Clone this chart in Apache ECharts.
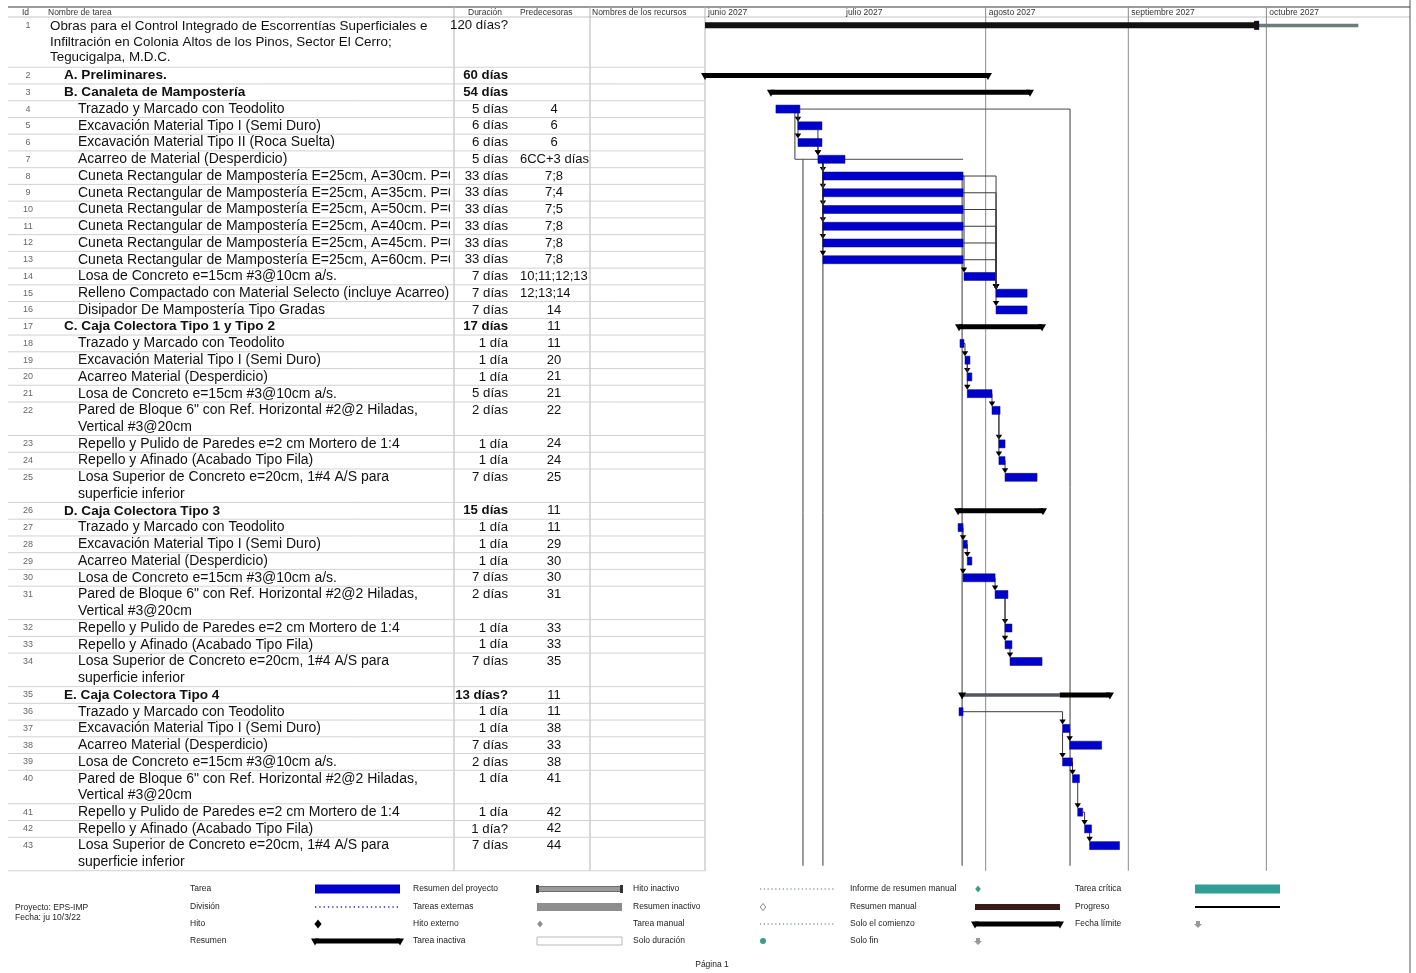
<!DOCTYPE html>
<html><head><meta charset="utf-8">
<script src="https://cdn.jsdelivr.net/npm/echarts@6/dist/echarts.min.js"></script>
<style>html,body{margin:0;padding:0;background:#fff}#c{width:1416px;height:973px}</style>
</head><body><div id="c"></div>
<script>
// ---------------- DATA ----------------
const ids = Array.from({length:43}, (_, k) => k + 1);
const names = [
 'Obras para el Control Integrado de Escorrentías Superficiales e\nInfiltración en Colonia Altos de los Pinos, Sector El Cerro;\nTegucigalpa, M.D.C.',
 'A. Preliminares.',
 'B. Canaleta de Mampostería',
 'Trazado y Marcado con Teodolito',
 'Excavación Material Tipo I (Semi Duro)',
 'Excavación Material Tipo II (Roca Suelta)',
 'Acarreo de Material (Desperdicio)',
 'Cuneta Rectangular de Mampostería E=25cm, A=30cm. P=0.40m',
 'Cuneta Rectangular de Mampostería E=25cm, A=35cm. P=0.40m',
 'Cuneta Rectangular de Mampostería E=25cm, A=50cm. P=0.40m',
 'Cuneta Rectangular de Mampostería E=25cm, A=40cm. P=0.40m',
 'Cuneta Rectangular de Mampostería E=25cm, A=45cm. P=0.40m',
 'Cuneta Rectangular de Mampostería E=25cm, A=60cm. P=0.40m',
 'Losa de Concreto e=15cm #3@10cm a/s.',
 'Relleno Compactado con Material Selecto (incluye Acarreo)',
 'Disipador De Mampostería Tipo Gradas',
 'C. Caja Colectora Tipo 1 y Tipo 2',
 'Trazado y Marcado con Teodolito',
 'Excavación Material Tipo I (Semi Duro)',
 'Acarreo Material (Desperdicio)',
 'Losa de Concreto e=15cm #3@10cm a/s.',
 'Pared de Bloque 6" con Ref. Horizontal #2@2 Hiladas,\nVertical #3@20cm',
 'Repello y Pulido de Paredes e=2 cm Mortero de 1:4',
 'Repello y Afinado (Acabado Tipo Fila)',
 'Losa Superior de Concreto e=20cm, 1#4 A/S para\nsuperficie inferior',
 'D. Caja Colectora Tipo 3',
 'Trazado y Marcado con Teodolito',
 'Excavación Material Tipo I (Semi Duro)',
 'Acarreo Material (Desperdicio)',
 'Losa de Concreto e=15cm #3@10cm a/s.',
 'Pared de Bloque 6" con Ref. Horizontal #2@2 Hiladas,\nVertical #3@20cm',
 'Repello y Pulido de Paredes e=2 cm Mortero de 1:4',
 'Repello y Afinado (Acabado Tipo Fila)',
 'Losa Superior de Concreto e=20cm, 1#4 A/S para\nsuperficie inferior',
 'E. Caja Colectora Tipo 4',
 'Trazado y Marcado con Teodolito',
 'Excavación Material Tipo I (Semi Duro)',
 'Acarreo Material (Desperdicio)',
 'Losa de Concreto e=15cm #3@10cm a/s.',
 'Pared de Bloque 6" con Ref. Horizontal #2@2 Hiladas,\nVertical #3@20cm',
 'Repello y Pulido de Paredes e=2 cm Mortero de 1:4',
 'Repello y Afinado (Acabado Tipo Fila)',
 'Losa Superior de Concreto e=20cm, 1#4 A/S para\nsuperficie inferior'
];
const kinds = ['project','summary','summary','task','task','task','task','task','task','task','task','task','task','task','task','task',
 'summary','task','task','task','task','task','task','task','task',
 'summary','task','task','task','task','task','task','task','task',
 'summary','task','task','task','task','task','task','task','task'];
const levels = kinds.map(k => k === 'project' ? 0 : (k === 'summary' ? 1 : 2));
const durations = ['120 días?','60 días','54 días','5 días','6 días','6 días','5 días','33 días','33 días','33 días','33 días','33 días','33 días','7 días','7 días','7 días',
 '17 días','1 día','1 día','1 día','5 días','2 días','1 día','1 día','7 días',
 '15 días','1 día','1 día','1 día','7 días','2 días','1 día','1 día','7 días',
 '13 días?','1 día','1 día','7 días','2 días','1 día','1 día','1 día?','7 días'];
const predecessors = ['','','','4','6','6','6CC+3 días','7;8','7;4','7;5','7;8','7;8','7;8','10;11;12;13','12;13;14','14',
 '11','11','20','21','21','22','24','24','25',
 '11','11','29','30','30','31','33','33','35',
 '11','11','38','33','38','41','42','42','44'];
const starts = ['2027-06-01 00:00','2027-06-01 00:00','2027-06-15 08:00','2027-06-16 10:00','2027-06-21 05:00','2027-06-21 05:00','2027-06-25 13:00',
 '2027-06-26 15:00','2027-06-26 15:00','2027-06-26 15:00','2027-06-26 15:00','2027-06-26 15:00','2027-06-26 15:00',
 '2027-07-27 07:00','2027-08-03 06:00','2027-08-03 06:00',
 '2027-07-26 05:00','2027-07-26 10:00','2027-07-27 12:00','2027-07-28 00:00','2027-07-28 00:00','2027-08-02 09:00','2027-08-03 21:00','2027-08-03 21:00','2027-08-05 05:00',
 '2027-07-26 00:00','2027-07-26 00:00','2027-07-27 02:00','2027-07-28 00:00','2027-07-27 02:00','2027-08-03 01:00','2027-08-05 05:00','2027-08-05 05:00','2027-08-06 07:00',
 '2027-07-26 21:00','2027-07-26 05:00','2027-08-17 17:00','2027-08-19 06:00','2027-08-17 17:00','2027-08-19 21:00','2027-08-21 00:00','2027-08-22 12:00','2027-08-23 14:00'];
const finishes = ['2027-09-29 05:00','2027-08-01 12:00','2027-08-10 15:00','2027-06-21 15:00','2027-06-26 10:00','2027-06-26 10:00','2027-07-01 10:00',
 '2027-07-27 02:00','2027-07-27 02:00','2027-07-27 02:00','2027-07-27 02:00','2027-07-27 02:00','2027-07-27 02:00',
 '2027-08-03 01:00','2027-08-10 00:00','2027-08-10 00:00',
 '2027-08-13 06:00','2027-07-27 07:00','2027-07-28 14:00','2027-07-29 00:00','2027-08-02 09:00','2027-08-04 03:00','2027-08-05 05:00','2027-08-05 05:00','2027-08-12 04:00',
 '2027-08-13 11:00','2027-07-27 02:00','2027-07-28 00:00','2027-07-29 00:00','2027-08-03 01:00','2027-08-05 20:00','2027-08-06 17:00','2027-08-06 17:00','2027-08-13 06:00',
 '2027-08-28 00:00','2027-07-27 02:00','2027-08-19 06:00','2027-08-26 05:00','2027-08-19 21:00','2027-08-21 09:00','2027-08-22 02:00','2027-08-24 00:00','2027-08-30 02:00'];
const projectTailEnd = '2027-10-21 00:00';
const summaryEHeavyFrom = '2027-08-17 02:00';
const links = [[4,5],[4,6],[5,7],[6,7],[7,8],[7,9],[7,10],[7,11],[7,12],[7,13],[8,14],[8,15],[9,15],[10,15],[11,15],[12,15],[13,15],[14,16],
 [18,19],[19,20],[19,21],[21,22],[22,23],[22,24],[24,25],
 [27,28],[28,29],[28,30],[30,31],[31,32],[31,33],[33,34],
 [36,37],[37,38],[37,39],[39,40],[40,41],[41,42],[42,43]];
// long connector verticals: [date, fromRow, toRow (0 = bottom)]
const connectorV = [['2027-06-20 13:00',4,7],['2027-06-22 07:00',7,0],['2027-06-26 15:00',7,0],['2027-07-26 21:00',8,0],['2027-08-19 08:00',4,0]];
// connector horizontals: [row, fromDate, toDate]
const connectorH = [[4,'2027-06-21 15:00','2027-08-19 08:00'],[7,'2027-06-20 13:00','2027-07-27 02:00']];
const monthStarts = ['2027-06-01','2027-07-01','2027-08-01','2027-09-01','2027-10-01'];
const monthLabels = ['junio 2027','julio 2027','agosto 2027','septiembre 2027','octubre 2027'];
const monthLines = ['2027-08-01','2027-09-01','2027-10-01'];
const timeMin = '2027-06-01 00:00', timeMax = '2027-11-01 00:00';
const tableHeaders = ['Id','Nombre de tarea','Duración','Predecesoras','Nombres de los recursos'];
const legendLabels = [
 ['Tarea','División','Hito','Resumen'],
 ['Resumen del proyecto','Tareas externas','Hito externo','Tarea inactiva'],
 ['Hito inactivo','Resumen inactivo','Tarea manual','Solo duración'],
 ['Informe de resumen manual','Resumen manual','Solo el comienzo','Solo fin'],
 ['Tarea crítica','Progreso','Fecha límite']
];
const legendSymbols = [
 ['task','split','milestone','summary'],
 ['projsum','external','extmile','inactive'],
 ['dotted','diamondOutline','dotted','tealDot'],
 ['tealDiamond','brownBar','summary','smallArrow'],
 ['tealBar','progress','smallArrow']
];
const projectInfo = ['Proyecto: EPS-IMP','Fecha: ju 10/3/22'];
const footer = 'Página 1';

// ---------------- LAYOUT ----------------
const FONT = '"Liberation Sans", Arial, sans-serif';
const TOP = 17, UNIT = 16.74, TABLE_W = 705, GANTT_W = 704;
const lineCounts = names.map(n => n.split('\n').length);
const rowStart = []; let acc = 0;
lineCounts.forEach(c => { rowStart.push(acc); acc += c; });
const totalLines = acc;
const BOTTOM = TOP + totalLines * UNIT;
const T = s => new Date(s.replace(' ', 'T') + (s.length <= 10 ? 'T00:00' : '')).getTime();
const BLUE = '#0000cc';

const chart = echarts.init(document.getElementById('c'));

function tableItem(params, api) {
  const i = params.dataIndex;
  const y0 = api.coord([0, rowStart[i]])[1];
  const y1 = api.coord([0, rowStart[i] + lineCounts[i]])[1];
  const first = api.coord([0, rowStart[i] + 0.5])[1];
  const yc = (y0 + y1) / 2;
  const bold = kinds[i] === 'summary';
  const nx = [50, 64, 78][levels[i]];
  const nameFont = i === 0 ? '13.4px ' : (bold ? 'bold 13.6px ' : '14px ');
  return {type:'group', children:[
    {type:'line', shape:{x1:8, y1:y1, x2:TABLE_W, y2:y1}, style:{stroke:'#d2d2d2', lineWidth:1}},
    {type:'text', style:{x:28, y:first, text:String(ids[i]), font:'9px '+FONT, fill:'#666', align:'center', verticalAlign:'middle'}},
    {type:'group', clipPath:{type:'rect', shape:{x:nx-2, y:y0, width:452-nx, height:y1-y0}}, children:[
      {type:'text', style:{x:nx, y:yc, text:names[i], font:nameFont+FONT, fill:'#111',
        lineHeight: i === 0 ? 15.5 : UNIT, verticalAlign:'middle'}}
    ]},
    {type:'text', style:{x:508, y:first, text:durations[i], font:(bold?'bold 13.2px ':'13.2px ')+FONT, fill:'#111', align:'right', verticalAlign:'middle'}},
    {type:'group', clipPath:{type:'rect', shape:{x:518, y:y0, width:71, height:y1-y0}}, children:[
      {type:'text', style:{x:554, y:first, text:predecessors[i], font:'13px '+FONT, fill:'#111',
        align: predecessors[i].length > 7 ? 'left' : 'center', verticalAlign:'middle'}, x: predecessors[i].length > 7 ? -34 : 0}
    ]}
  ]};
}

function barItem(params, api) {
  const i = api.value(3);
  const p0 = api.coord([api.value(0), api.value(2)]);
  const p1 = api.coord([api.value(1), api.value(2)]);
  const x0 = p0[0], x1 = p1[0], y = p0[1];
  const k = kinds[i];
  if (k === 'task') {
    return {type:'rect', shape:{x:x0, y:y-4, width:Math.max(x1-x0, 3), height:8}, style:{fill:BLUE, stroke:'#000080', lineWidth:0.5}};
  }
  if (k === 'project') {
    const xt = api.coord([T(projectTailEnd), api.value(2)])[0];
    return {type:'group', children:[
      {type:'rect', shape:{x:x0, y:y-1.5, width:xt-x0, height:3.5}, style:{fill:'#6d7a80'}},
      {type:'rect', shape:{x:x0, y:y-3, width:x1-x0, height:6}, style:{fill:'#111'}},
      {type:'rect', shape:{x:x1-4, y:y-4.5, width:5, height:9}, style:{fill:'#111'}}
    ]};
  }
  const ch = [];
  let hx = x0;
  if (i === 34) {
    hx = api.coord([T(summaryEHeavyFrom), api.value(2)])[0];
    ch.push({type:'rect', shape:{x:x0, y:y-1.8, width:hx-x0, height:3.6}, style:{fill:'#505560'}});
  }
  ch.push({type:'rect', shape:{x:hx, y:y-2.5, width:x1-hx, height:5}, style:{fill:'#000'}});
  [x0, x1].forEach(x => ch.push({type:'polygon', shape:{points:[[x-4,y-2.5],[x+4,y-2.5],[x,y+4.5]]}, style:{fill:'#000'}}));
  return {type:'group', children:ch};
}

function linkItem(params, api) {
  const [a, b] = links[params.dataIndex].map(r => r - 1);
  const pe = T(finishes[a]), ss = T(starts[b]);
  const ya = api.coord([pe, rowStart[a] + 0.5])[1];
  const yb = api.coord([ss, rowStart[b] + 0.5])[1];
  const xe = api.coord([pe, 0])[0], xs = api.coord([ss, 0])[0];
  let pts;
  if (xs >= xe) pts = [[xe, ya], [xs, ya], [xs, yb-8]];
  else pts = [[xs, ya+4], [xs, yb-8]];
  return {type:'group', children:[
    {type:'polyline', shape:{points:pts}, style:{stroke:'#3a3a3a', lineWidth:1, fill:null}},
    {type:'polygon', shape:{points:[[xs-3.2, yb-9],[xs+3.2, yb-9],[xs, yb-4]]}, style:{fill:'#000'}}
  ]};
}

function connVItem(params, api) {
  const [d, r0, r1] = connectorV[params.dataIndex];
  const x = api.coord([T(d), 0])[0];
  const y0 = api.coord([T(d), rowStart[r0-1] + 0.5])[1];
  const y1 = r1 ? api.coord([T(d), rowStart[r1-1] + 0.5])[1] : BOTTOM - 5;
  return {type:'line', shape:{x1:x, y1:y0, x2:x, y2:y1}, style:{stroke:'#3a3a3a', lineWidth:1}};
}
function connHItem(params, api) {
  const [r, d0, d1] = connectorH[params.dataIndex];
  const p0 = api.coord([T(d0), rowStart[r-1] + 0.5]);
  const p1 = api.coord([T(d1), rowStart[r-1] + 0.5]);
  return {type:'line', shape:{x1:p0[0], y1:p0[1], x2:p1[0], y2:p1[1]}, style:{stroke:'#4a4a4a', lineWidth:1}};
}
function monthLabelItem(params, api) {
  const x = api.coord([T(monthStarts[params.dataIndex]), 0])[0];
  return {type:'text', style:{x:x+3, y:12.5, text:monthLabels[params.dataIndex], font:'8.5px '+FONT, fill:'#333', verticalAlign:'middle'}};
}
function monthLineItem(params, api) {
  const x = api.coord([T(monthLines[params.dataIndex]), 0])[0];
  return {type:'line', shape:{x1:x, y1:7, x2:x, y2:BOTTOM}, style:{stroke:'#8c8c8c', lineWidth:1}};
}

// ---------------- STATIC GRAPHICS (header lines, legend) ----------------
const g = [];
g.push({type:'line', shape:{x1:8, y1:7, x2:1410, y2:7}, style:{stroke:'#7a7a7a', lineWidth:1.5}});
g.push({type:'line', shape:{x1:8, y1:TOP, x2:1410, y2:TOP}, style:{stroke:'#c4c4c4', lineWidth:1}});
[454, 590, TABLE_W].forEach(x => g.push({type:'line', shape:{x1:x, y1:7, x2:x, y2:BOTTOM}, style:{stroke:'#b4b4b4', lineWidth:1}}));
g.push({type:'line', shape:{x1:1410, y1:0, x2:1410, y2:973}, style:{stroke:'#555', lineWidth:1}});
const hx = [22, 48, 468, 520, 592];
tableHeaders.forEach((t, k) => g.push({type:'text', style:{x:hx[k], y:12.5, text:t, font:'8.5px '+FONT, fill:'#333', verticalAlign:'middle'}}));

const LROWS = [889, 907, 924, 941];
const LCOLS = [{lx:190, sx:315}, {lx:413, sx:537}, {lx:633, sx:760}, {lx:850, sx:975}, {lx:1075, sx:1195}];
const SW = 85;
function diamond(cx, cy, r, fill, stroke) {
  return {type:'polygon', shape:{points:[[cx,cy-r],[cx+r*0.8,cy],[cx,cy+r],[cx-r*0.8,cy]]}, style:{fill:fill, stroke:stroke||null, lineWidth:1}};
}
function sym(kind, sx, y) {
  switch(kind) {
    case 'task': return [{type:'rect', shape:{x:sx, y:y-4.5, width:SW, height:9}, style:{fill:BLUE}}];
    case 'split': return [{type:'line', shape:{x1:sx, y1:y, x2:sx+SW, y2:y}, style:{stroke:'#2a2ab0', lineWidth:1.3, lineDash:[1.3,3]}}];
    case 'milestone': return [diamond(sx+3, y, 4.5, '#000')];
    case 'summary': return [{type:'rect', shape:{x:sx, y:y-2.5, width:SW, height:5}, style:{fill:'#000'}},
      {type:'polygon', shape:{points:[[sx-4,y-2.5],[sx+4,y-2.5],[sx,y+4.5]]}, style:{fill:'#000'}},
      {type:'polygon', shape:{points:[[sx+SW-4,y-2.5],[sx+SW+4,y-2.5],[sx+SW,y+4.5]]}, style:{fill:'#000'}}];
    case 'projsum': return [{type:'rect', shape:{x:sx, y:y-2.5, width:SW, height:5}, style:{fill:'#9a9a9a', stroke:'#555', lineWidth:0.8}},
      {type:'rect', shape:{x:sx-1, y:y-4, width:3, height:8}, style:{fill:'#333'}},
      {type:'rect', shape:{x:sx+SW-2, y:y-4, width:3, height:8}, style:{fill:'#333'}}];
    case 'external': return [{type:'rect', shape:{x:sx, y:y-4, width:SW, height:8}, style:{fill:'#8e8e8e'}}];
    case 'extmile': return [diamond(sx+3, y, 3.5, '#8e8e8e')];
    case 'inactive': return [{type:'rect', shape:{x:sx, y:y-4, width:SW, height:8}, style:{fill:'#fff', stroke:'#b8b8b8', lineWidth:1}}];
    case 'dotted': return [{type:'line', shape:{x1:sx, y1:y, x2:sx+75, y2:y}, style:{stroke:'#5a6a7a', lineWidth:1.2, lineDash:[1.2,2.6]}}];
    case 'diamondOutline': return [diamond(sx+3, y, 3.5, '#fff', '#888')];
    case 'tealDot': return [{type:'circle', shape:{cx:sx+3, cy:y, r:3}, style:{fill:'#3c9c8a'}}];
    case 'tealDiamond': return [diamond(sx+3, y, 3.5, '#3c9c8a')];
    case 'brownBar': return [{type:'rect', shape:{x:sx, y:y-3, width:SW, height:6}, style:{fill:'#3a1a1a'}}];
    case 'smallArrow': return [{type:'polygon', shape:{points:[[sx+1,y-3],[sx+5,y-3],[sx+5,y],[sx+7,y],[sx+3,y+4],[sx-1,y],[sx+1,y]]}, style:{fill:'#999'}}];
    case 'tealBar': return [{type:'rect', shape:{x:sx, y:y-4.5, width:SW, height:9}, style:{fill:'#2f9e94'}}];
    case 'progress': return [{type:'line', shape:{x1:sx, y1:y, x2:sx+SW, y2:y}, style:{stroke:'#000', lineWidth:2}}];
  }
  return [];
}
legendLabels.forEach((col, c) => col.forEach((lab, r) => {
  g.push({type:'text', style:{x:LCOLS[c].lx, y:LROWS[r], text:lab, font:'8.5px '+FONT, fill:'#222', verticalAlign:'middle'}});
  sym(legendSymbols[c][r], LCOLS[c].sx, LROWS[r]).forEach(e => g.push(e));
}));
projectInfo.forEach((t, k) => g.push({type:'text', style:{x:15, y:908 + k*10, text:t, font:'8.5px '+FONT, fill:'#222', verticalAlign:'middle'}}));
g.push({type:'text', style:{x:712, y:965, text:footer, font:'8.5px '+FONT, fill:'#222', align:'center', verticalAlign:'middle'}});

// ---------------- OPTION ----------------
const H = totalLines * UNIT;
const option = {
  animation:false,
  backgroundColor:'#fff',
  textStyle:{fontFamily:FONT},
  grid:[{left:0, top:TOP, width:TABLE_W, height:H}, {left:TABLE_W, top:TOP, width:GANTT_W, height:H}],
  xAxis:[
    {gridIndex:0, type:'value', min:0, max:TABLE_W, show:false},
    {gridIndex:1, type:'time', min:T(timeMin), max:T(timeMax), show:false}
  ],
  yAxis:[
    {gridIndex:0, type:'value', min:0, max:totalLines, inverse:true, show:false},
    {gridIndex:1, type:'value', min:0, max:totalLines, inverse:true, show:false}
  ],
  graphic:g,
  series:[
    {type:'custom', xAxisIndex:0, yAxisIndex:0, clip:false, z:2, renderItem:tableItem,
     data:names.map((n, i) => [0, rowStart[i] + 0.5, i])},
    {type:'custom', xAxisIndex:1, yAxisIndex:1, clip:false, z:1, renderItem:monthLineItem,
     data:monthLines.map(d => [T(d), 0])},
    {type:'custom', xAxisIndex:1, yAxisIndex:1, clip:false, z:2, renderItem:monthLabelItem,
     data:monthStarts.map(d => [T(d), 0])},
    {type:'custom', xAxisIndex:1, yAxisIndex:1, clip:false, z:2, renderItem:connVItem,
     data:connectorV.map(c => [T(c[0]), rowStart[c[1]-1] + 0.5])},
    {type:'custom', xAxisIndex:1, yAxisIndex:1, clip:false, z:2, renderItem:connHItem,
     data:connectorH.map(c => [T(c[1]), rowStart[c[0]-1] + 0.5])},
    {type:'custom', xAxisIndex:1, yAxisIndex:1, clip:false, z:3, renderItem:linkItem,
     data:links.map(l => [T(starts[l[1]-1]), rowStart[l[1]-1] + 0.5])},
    {type:'custom', xAxisIndex:1, yAxisIndex:1, clip:false, z:4, renderItem:barItem,
     encode:{x:[0,1], y:2},
     data:starts.map((s, i) => [T(s), T(finishes[i]), rowStart[i] + 0.5, i])}
  ]
};
chart.setOption(option);
</script>
</body></html>
